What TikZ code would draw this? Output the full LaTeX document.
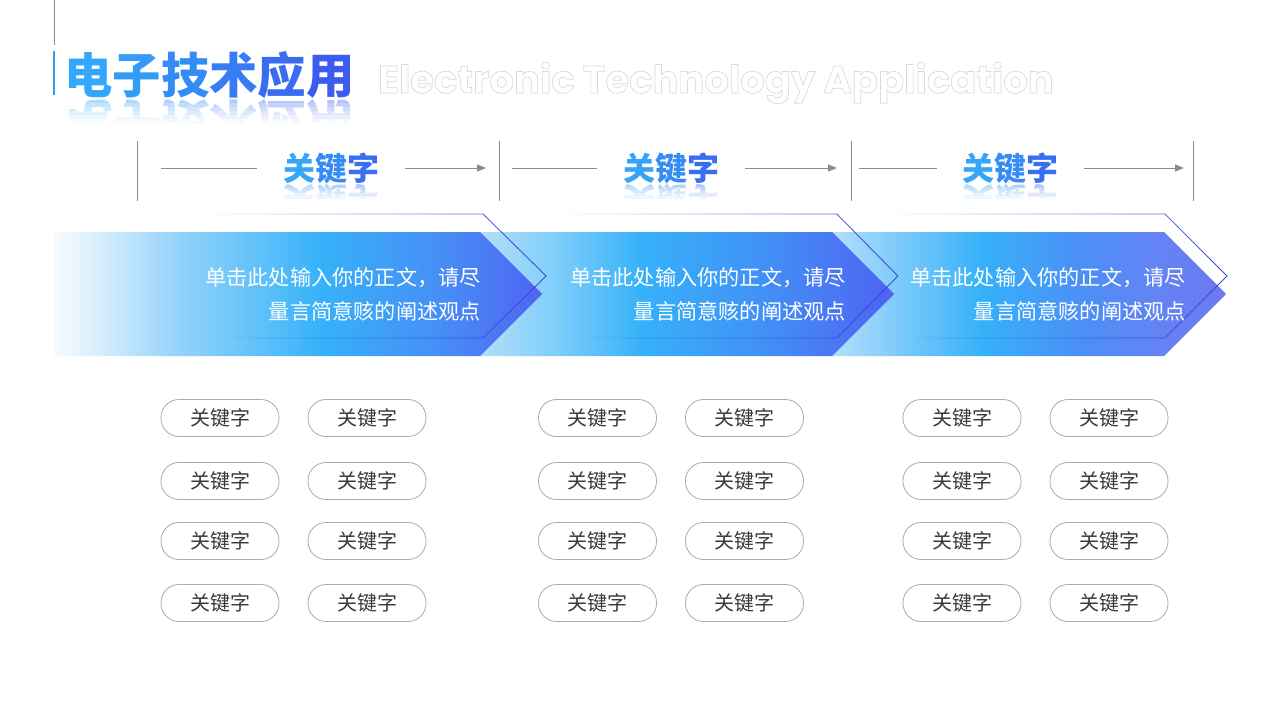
\documentclass[tikz,border=0pt]{standalone}
\usepackage{fontspec}
\usepackage{graphicx}
\setmainfont{Noto Sans CJK SC}
\newfontfamily\cjk{Noto Sans CJK SC}
\newfontfamily\enfont{Poppins}
\usetikzlibrary{arrows.meta,fadings,calc}

\definecolor{gline}{HTML}{8C8C8C}
\definecolor{barblue}{HTML}{2F9FF5}
\definecolor{t1}{HTML}{33A8FA}
\definecolor{t2}{HTML}{339BF8}
\definecolor{t3}{HTML}{348CF6}
\definecolor{t4}{HTML}{377CF4}
\definecolor{t5}{HTML}{3A6CF2}
\definecolor{t6}{HTML}{3C5CF0}
\definecolor{k1}{HTML}{36A4F8}
\definecolor{k2}{HTML}{378BF5}
\definecolor{k3}{HTML}{3A6EF2}
\definecolor{engray}{HTML}{DADADA}
\definecolor{outblue}{HTML}{3A46DC}
\definecolor{pillline}{HTML}{ABABAB}
\definecolor{pilltext}{HTML}{3A3A3A}

\definecolor{aA0}{HTML}{F8FCFF}
\definecolor{aA1}{HTML}{CDEAFC}
\definecolor{aA2}{HTML}{9AD5FA}
\definecolor{aA3}{HTML}{6CC6FA}
\definecolor{aA4}{HTML}{36B1F9}
\definecolor{aA5}{HTML}{4690F6}
\definecolor{aA6}{HTML}{5064F2}
\definecolor{aB0}{HTML}{B4DFFA}
\definecolor{aB1}{HTML}{7CCDFA}
\definecolor{aB2}{HTML}{36B1F9}
\definecolor{aB3}{HTML}{3F95F6}
\definecolor{aB4}{HTML}{4A78F4}
\definecolor{aB5}{HTML}{4D63F2}
\definecolor{aC0}{HTML}{B4DFFA}
\definecolor{aC1}{HTML}{7CCAFA}
\definecolor{aC2}{HTML}{36B1F9}
\definecolor{aC3}{HTML}{4B8FF6}
\definecolor{aC4}{HTML}{6483F4}
\definecolor{aC5}{HTML}{6E78F2}

\pgfdeclarehorizontalshading{arrA}{100bp}{color(0bp)=(aA0); color(25bp)=(aA0); color(31bp)=(aA1); color(37bp)=(aA2); color(44bp)=(aA3); color(52.5bp)=(aA4); color(64bp)=(aA5); color(75bp)=(aA6); color(100bp)=(aA6)}
\pgfdeclarehorizontalshading{arrB}{100bp}{color(0bp)=(aB0); color(25bp)=(aB0); color(34.5bp)=(aB1); color(44.5bp)=(aB2); color(57.5bp)=(aB3); color(67.5bp)=(aB4); color(75bp)=(aB5); color(100bp)=(aB5)}
\pgfdeclarehorizontalshading{arrC}{100bp}{color(0bp)=(aC0); color(25bp)=(aC0); color(33.5bp)=(aC1); color(44bp)=(aC2); color(56.5bp)=(aC3); color(66.5bp)=(aC4); color(75bp)=(aC5); color(100bp)=(aC5)}

\tikzfading[name=fadeL, left color=transparent!100, right color=transparent!0]

\newcommand\titletext{{\color{t1}电}{\color{t2}子}{\color{t3}技}{\color{t4}术}{\color{t5}应}{\color{t6}用}}
\newcommand\keytext{{\color{k1}关}{\color{k2}键}{\color{k3}字}}

\tikzset{
  vline/.style={draw=gline, line width=0.9pt},
  hline/.style={draw=gline, line width=1pt},
  harrow/.style={hline, -{Triangle[length=9pt,width=7pt]}},
  titlefont/.style={inner sep=0pt, font=\cjk\bfseries\fontsize{48.4}{48.4}\selectfont},
  keyhead/.style={inner sep=0pt, font=\cjk\bfseries\fontsize{32}{32}\selectfont},
  body/.style={inner sep=0pt, align=right, text=white, font=\cjk\fontsize{21.2}{34}\selectfont},
  outln/.style={draw=outblue, line width=0.9pt, path fading=fadeL},
  pill/.style={draw=pillline, line width=0.8pt, rounded corners=18pt, minimum width=118pt, minimum height=37pt, inner sep=0pt, text=pilltext, font=\cjk\fontsize{20}{20}\selectfont},
}

\begin{document}
\begin{tikzpicture}[x=1pt,y=-1pt]
\useasboundingbox[fill=white] (0,0) rectangle (1280,720);

% ---- title ----
\coordinate (gl0) at (54,0);
\coordinate (gl1) at (54,45);
\draw[vline, line width=0.8pt] (gl0) -- (gl1);
\fill[barblue] (52.8,51) rectangle (55.3,95);
\node[titlefont, anchor=west] (title) at (64,75) {\titletext};
\node[titlefont, anchor=north, opacity=0.45] (titleR) at (title.south) {\scalebox{1}[-1]{\titletext}};
\foreach \i/\op in {0/0.15,1/0.35,2/0.5,3/0.65,4/0.78,5/0.9}{
  \fill[white, opacity=\op] ($(title.south west)+(-3,4*\i)$) rectangle ($(title.south east)+(3,4*\i+4)$);
}
\fill[white] ($(title.south west)+(-3,24)$) rectangle ($(title.south east)+(3,60)$);
\node[anchor=base west, inner sep=0pt, text=engray, font=\enfont\bfseries\fontsize{38.5}{38.5}\selectfont] (en) at (378,93) {\special{pdf:literal direct 1 Tr 0.7 w}Electronic Technology Application\special{pdf:literal direct 0 Tr}};

% ---- header row ----
\foreach \n/\x in {a/137,b/499,c/851,d/1193}{
  \coordinate (v\n0) at (\x,141);
  \coordinate (v\n1) at (\x,201);
  \draw[vline] (v\n0) -- (v\n1);
}
\foreach \n/\cx/\la/\lb/\ra/\rb in {1/331/161/257/405/486, 2/671/512/597/745/837, 3/1010/859/937/1084/1184}{
  \coordinate (hl\n a) at (\la,168);
  \coordinate (hl\n b) at (\lb,168);
  \coordinate (hr\n a) at (\ra,168);
  \coordinate (hr\n b) at (\rb,168);
  \draw[hline] (hl\n a) -- (hl\n b);
  \draw[harrow] (hr\n a) -- (hr\n b);
  \node[keyhead] (key\n) at (\cx,168) {\keytext};
  \node[keyhead, anchor=north, opacity=0.45] (keyR\n) at (key\n.south) {\scalebox{1}[-1]{\keytext}};
  \foreach \i/\op in {0/0.15,1/0.35,2/0.52,3/0.68,4/0.82}{
    \fill[white, opacity=\op] ($(key\n.south west)+(-3,3*\i)$) rectangle ($(key\n.south east)+(3,3*\i+3)$);
  }
  \fill[white] ($(key\n.south west)+(-3,15)$) rectangle ($(key\n.south east)+(3,40)$);
}

% ---- chevrons (drawn right to left) ----
\shade[shading=arrC] (832,232) -- (1164,232) -- (1226,294) -- (1164,356) -- (832,356) -- cycle;
\draw[outln] (883,214) -- (1165,214) -- (1227,276) -- (1165,338) -- (883,338);
\node[body, anchor=east] (txt3) at (1186,294) {单击此处输入你的正文，请尽\\量言简意赅的阐述观点};

\shade[shading=arrB] (480,232) -- (832,232) -- (894,294) -- (832,356) -- (480,356) -- cycle;
\draw[outln] (555,214) -- (837,214) -- (898,276) -- (837,338) -- (555,338);
\node[body, anchor=east] (txt2) at (846,294) {单击此处输入你的正文，请尽\\量言简意赅的阐述观点};

\shade[shading=arrA] (53,232) -- (480,232) -- (542,294) -- (480,356) -- (53,356) -- cycle;
\draw[outln] (200,214) -- (483,214) -- (546,276) -- (483,338) -- (200,338);
\node[body, anchor=east] (txt1) at (481,294) {单击此处输入你的正文，请尽\\量言简意赅的阐述观点};

% ---- pills ----
\foreach \g/\xa/\xb in {1/220/367, 2/597.5/744.5, 3/962/1109}{
  \foreach \r/\y in {1/418, 2/481, 3/541, 4/603}{
    \node[pill] (p\g\r a) at (\xa,\y) {关键字};
    \node[pill] (p\g\r b) at (\xb,\y) {关键字};
  }
}
\end{tikzpicture}
\end{document}
